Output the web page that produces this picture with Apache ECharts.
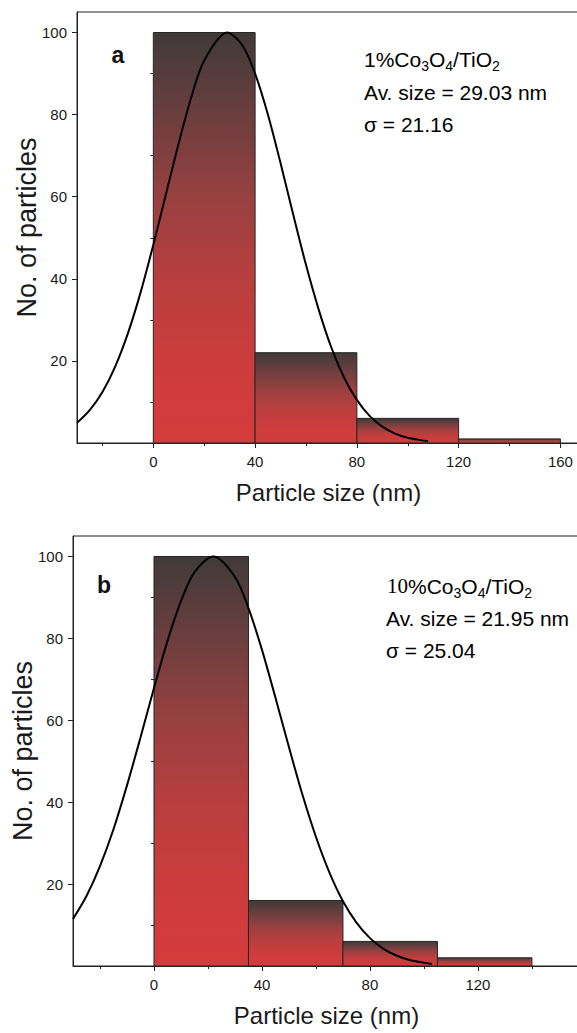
<!DOCTYPE html>
<html><head><meta charset="utf-8">
<script src="https://cdn.jsdelivr.net/npm/echarts@6/dist/echarts.min.js"></script>
<style>html,body{margin:0;padding:0;background:#fff}#c{width:577px;height:1033px}</style>
</head><body><div id="c"></div>
<script>
// ---- Panel a: 1%Co3O4/TiO2 ----
const binEdgesA = [0, 40, 80, 120, 160];
const countsA = [100, 22, 6, 1];
const fitXA = [-30,-25,-20,-15,-10,-5,0,5,10,15,20,29,35,40,45,50,55,60,65,70,75,80,85,90,95,100,105,108];
const fitYA = [4.9,8.0,12.4,18.6,26.7,36.7,48.3,60.7,73.1,84.4,93.2,100,96.9,90.0,80.1,68.2,55.6,43.4,32.5,23.2,15.9,10.5,6.6,4.0,2.3,1.3,0.7,0.4];
const xLabelsA = [0, 40, 80, 120, 160];
const xMinorA = [-20, 20, 60, 100, 140];

// ---- Panel b: 10%Co3O4/TiO2 ----
const binEdgesB = [0, 35, 70, 105, 140];
const countsB = [100, 16, 6, 2];
const fitXB = [-30,-25,-20,-15,-10,-5,0,5,10,15,22,30,35,40,45,50,55,60,65,70,75,80,85,90,95,100,103];
const fitYB = [11.5,17.1,24.4,33.4,44.1,55.8,67.9,79.4,89.1,96.2,100,95.0,87.4,77.2,65.5,53.4,41.8,31.5,22.8,15.8,10.6,6.8,4.2,2.5,1.4,0.8,0.5];
const xLabelsB = [0, 40, 80, 120];
const xMinorB = [-20, 20, 60, 100, 140];

// ---- shared y ticks ----
const yLabels = [20, 40, 60, 80, 100];
const yMinor = [10, 30, 50, 70, 90];

const FONT = "'Liberation Sans', Arial, Helvetica, sans-serif";
const INK = '#1a1a1a';

function bins(edges, counts) { return counts.map((c, i) => [edges[i], edges[i + 1], c]); }
function pairs(xs, ys) { return xs.map((x, i) => [x, ys[i]]); }
function grad() {
  return new echarts.graphic.LinearGradient(0, 0, 0, 1, [
    {offset: 0, color: '#403a3a'},
    {offset: 0.2, color: '#6b3e3e'},
    {offset: 0.4, color: '#984040'},
    {offset: 0.6, color: '#b83e3e'},
    {offset: 0.8, color: '#cc3c3c'},
    {offset: 1, color: '#d53b3b'}
  ]);
}
function renderBar(params, api) {
  const p0 = api.coord([api.value(0), api.value(2)]);
  const p1 = api.coord([api.value(1), 0]);
  return {type: 'rect', shape: {x: p0[0], y: p0[1], width: p1[0] - p0[0], height: p1[1] - p0[1]},
    style: {fill: grad(), stroke: '#262626', lineWidth: 1}};
}
function xPair(grid, min, max, labels, minor) {
  return [
    {type: 'value', gridIndex: grid, position: 'bottom', min: min, max: max,
     name: 'Particle size (nm)', nameLocation: 'middle', nameGap: 37, nameMoveOverlap: false,
     nameTextStyle: {fontFamily: FONT, fontSize: 24, color: INK},
     axisLine: {show: true, onZero: false, lineStyle: {color: '#222', width: 1}},
     axisTick: {show: true, customValues: labels, length: 5, lineStyle: {color: '#222'}},
     axisLabel: {customValues: labels, fontFamily: FONT, fontSize: 15, color: INK, margin: 11},
     splitLine: {show: false}},
    {type: 'value', gridIndex: grid, position: 'bottom', min: min, max: max,
     axisLine: {show: false}, axisLabel: {show: false}, splitLine: {show: false},
     axisTick: {show: true, customValues: minor, length: 3, lineStyle: {color: '#222'}}}
  ];
}
function yPair(grid, gap) {
  return [
    {type: 'value', gridIndex: grid, position: 'left', min: 0, max: 105,
     name: 'No. of particles', nameLocation: 'middle', nameGap: gap, nameMoveOverlap: false,
     nameTextStyle: {fontFamily: FONT, fontSize: 27, color: INK},
     axisLine: {show: true, onZero: false, lineStyle: {color: '#222', width: 1}},
     axisTick: {show: true, customValues: yLabels, length: 5, lineStyle: {color: '#222'}},
     axisLabel: {customValues: yLabels, fontFamily: FONT, fontSize: 15, color: INK, margin: 10},
     splitLine: {show: false}},
    {type: 'value', gridIndex: grid, position: 'left', min: 0, max: 105,
     axisLine: {show: false}, axisLabel: {show: false}, splitLine: {show: false},
     axisTick: {show: true, customValues: yMinor, length: 3, lineStyle: {color: '#222'}}}
  ];
}
function note(x, y, text, rich) {
  return {type: 'text', x: x, y: y, style: {text: text, rich: rich, align: 'left', verticalAlign: 'middle'}};
}
const richA = {
  n: {fontFamily: FONT, fontSize: 21, lineHeight: 28, color: INK},
  t: {fontFamily: "'Liberation Serif', 'Times New Roman', serif", fontSize: 21, lineHeight: 28, color: INK},
  s: {fontFamily: FONT, fontSize: 14, lineHeight: 14, verticalAlign: 'bottom', color: INK}
};

const chart = echarts.init(document.getElementById('c'), null, {renderer: 'svg'});
chart.setOption({
  animation: false,
  backgroundColor: '#fff',
  grid: [
    {left: 77, top: 12, width: 503, height: 431, show: true, borderColor: '#222', borderWidth: 1, outerBoundsMode: 'none', containLabel: false},
    {left: 73, top: 536, width: 507, height: 430, show: true, borderColor: '#222', borderWidth: 1, outerBoundsMode: 'none', containLabel: false}
  ],
  xAxis: [].concat(xPair(0, -30, 167.7, xLabelsA, xMinorA), xPair(1, -30, 157.8, xLabelsB, xMinorB)),
  yAxis: [].concat(yPair(0, 37), yPair(1, 37)),
  series: [
    {type: 'custom', xAxisIndex: 0, yAxisIndex: 0, renderItem: renderBar, encode: {x: [0, 1], y: 2},
     data: bins(binEdgesA, countsA), z: 2},
    {type: 'line', xAxisIndex: 0, yAxisIndex: 0, data: pairs(fitXA, fitYA), smooth: 0.3, showSymbol: false,
     lineStyle: {color: '#000', width: 2}, z: 5},
    {type: 'custom', xAxisIndex: 2, yAxisIndex: 2, renderItem: renderBar, encode: {x: [0, 1], y: 2},
     data: bins(binEdgesB, countsB), z: 2},
    {type: 'line', xAxisIndex: 2, yAxisIndex: 2, data: pairs(fitXB, fitYB), smooth: 0.3, showSymbol: false,
     lineStyle: {color: '#000', width: 2}, z: 5}
  ],
  graphic: [
    {type: 'text', x: 118, y: 55, style: {text: 'a', fontFamily: FONT, fontSize: 23, fontWeight: 'bold', fill: '#111', align: 'center', verticalAlign: 'middle'}},
    note(364, 59, '{n|1%Co}{s|3}{n|O}{s|4}{n|/TiO}{s|2}', richA),
    note(364, 92, '{n|Av. size = 29.03 nm}', richA),
    note(364, 124.5, '{n|σ = 21.16}', richA),
    {type: 'text', x: 104, y: 585, style: {text: 'b', fontFamily: FONT, fontSize: 23, fontWeight: 'bold', fill: '#111', align: 'center', verticalAlign: 'middle'}},
    note(387, 586, '{t|10}{n|%Co}{s|3}{n|O}{s|4}{n|/TiO}{s|2}', richA),
    note(386, 618, '{n|Av. size = 21.95 nm}', richA),
    note(386, 650, '{n|σ = 25.04}', richA)
  ]
});
</script></body></html>
